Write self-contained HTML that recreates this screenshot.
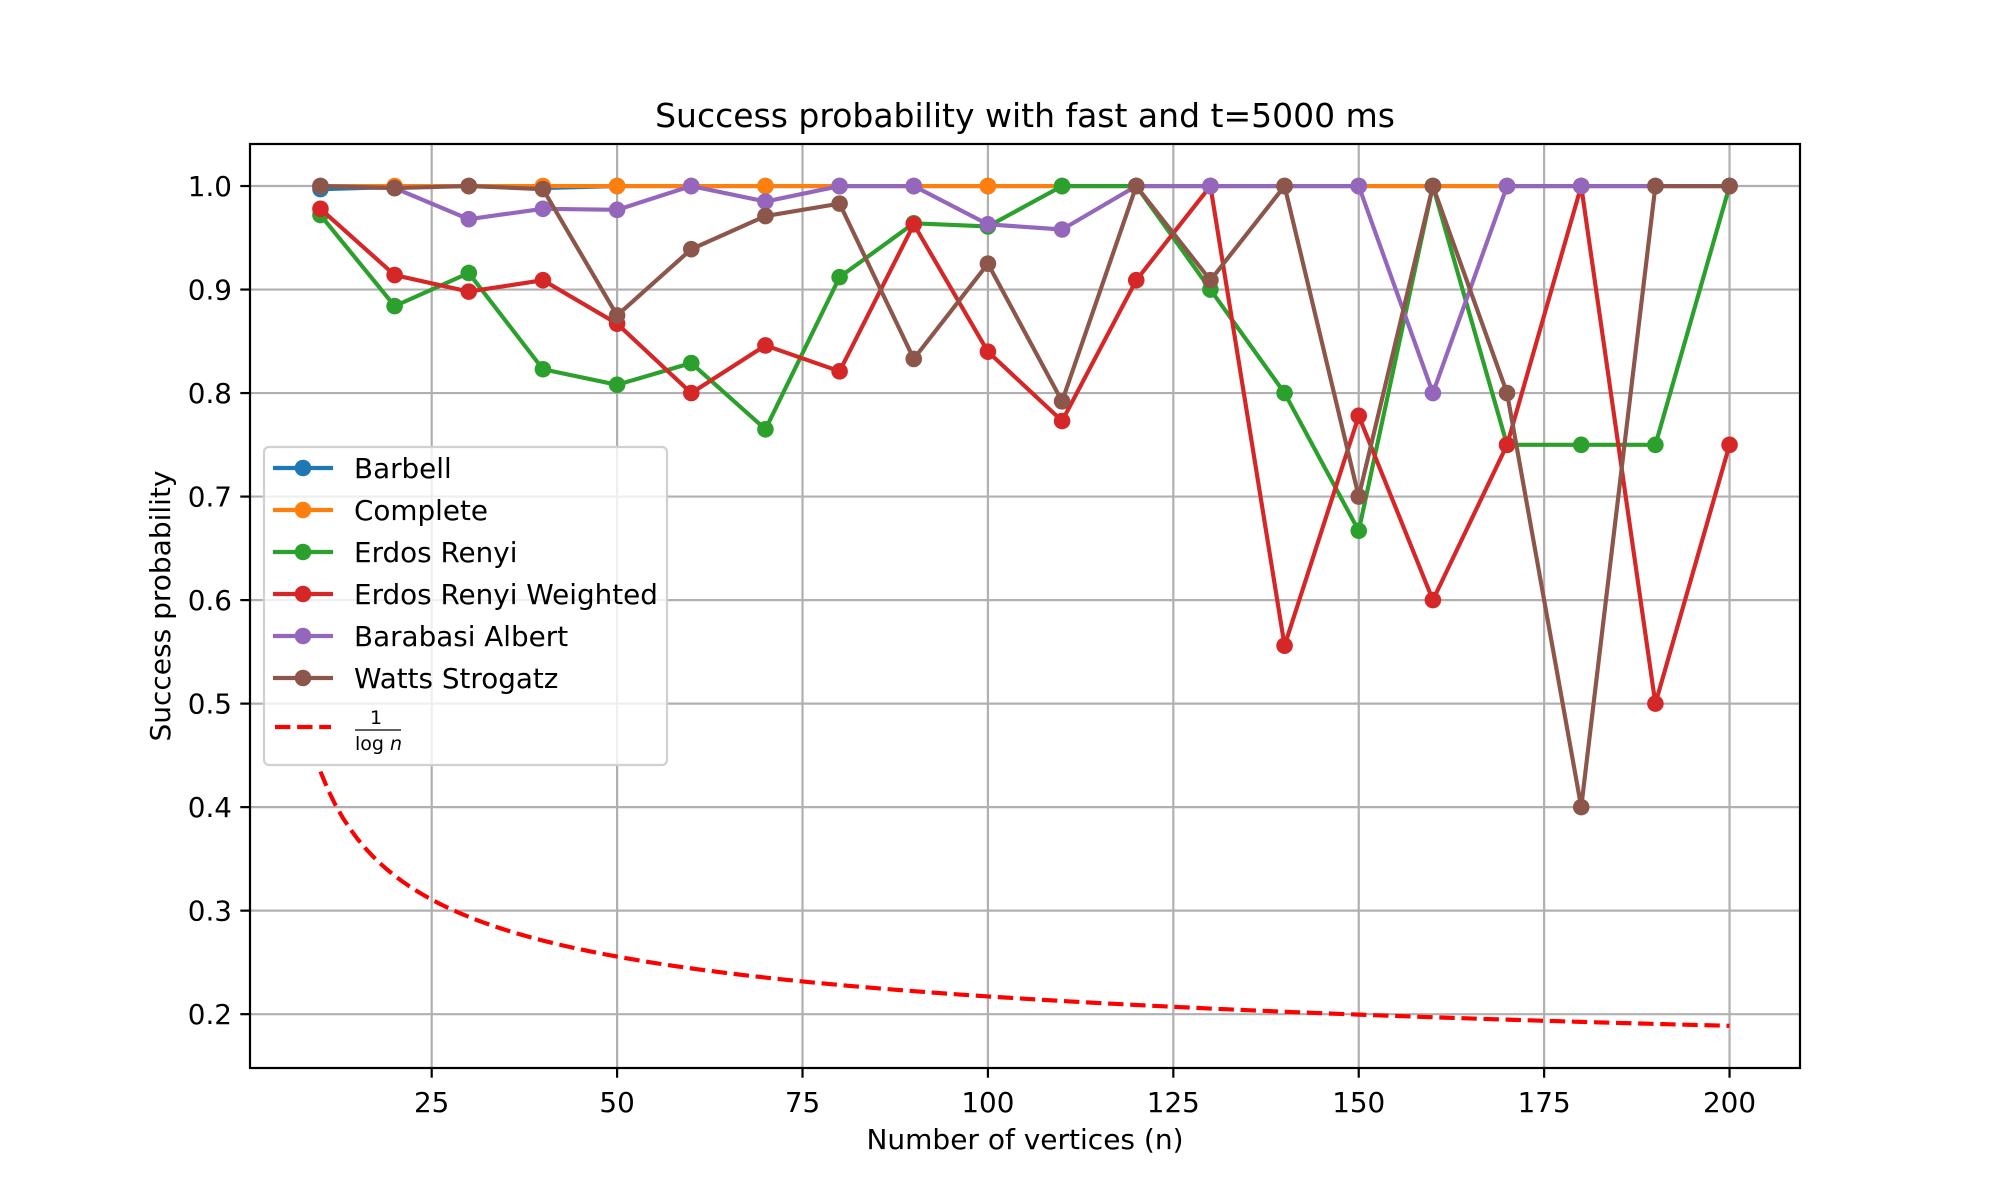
<!DOCTYPE html>
<html><head><meta charset="utf-8"><style>
html,body{margin:0;padding:0;background:#fff}
svg{display:block;font-family:"DejaVu Sans","Liberation Sans",sans-serif}
</style></head><body>
<svg id="chart" width="2000" height="1200" viewBox="0 0 2000 1200" xmlns="http://www.w3.org/2000/svg">
<rect width="2000" height="1200" fill="#fff"/>
<text x="1025" y="127" font-size="33" text-anchor="middle">Success probability with fast and t=5000 ms</text>
<g id="grid"></g>
<g id="curve"></g>
<g id="series"></g>
<rect x="250" y="144" width="1550" height="924" fill="none" stroke="#000" stroke-width="2.2"/>
<g id="ticks"></g>
<text x="1025" y="1149" font-size="28" text-anchor="middle">Number of vertices (n)</text>
<text transform="translate(170,606) rotate(-90)" font-size="28" text-anchor="middle">Success probability</text>
<g id="legend"></g>
</svg>
<script>
const nValues=[10,20,30,40,50,60,70,80,90,100,110,120,130,140,150,160,170,180,190,200];
const barbell=[0.997,0.999,1.0,0.998,1,1,1,1,1,1,1,1,1,1,1,1,1,1,1,1];
const complete=[1,1,1,1,1,1,1,1,1,1,1,1,1,1,1,1,1,1,1,1];
const erdosRenyi=[0.972,0.884,0.916,0.823,0.808,0.829,0.765,0.912,0.964,0.961,1.0,1.0,0.9,0.8,0.667,1.0,0.75,0.75,0.75,1.0];
const erdosRenyiWeighted=[0.978,0.914,0.898,0.909,0.867,0.8,0.846,0.821,0.963,0.84,0.773,0.909,1.0,0.556,0.778,0.6,0.75,1.0,0.5,0.75];
const barabasiAlbert=[1.0,0.998,0.968,0.978,0.977,1.0,0.985,1.0,1.0,0.963,0.958,1.0,1,1,1,0.8,1,1,1,1];
const wattsStrogatz=[1.0,0.998,1.0,0.997,0.875,0.939,0.971,0.983,0.833,0.925,0.792,1.0,0.909,1.0,0.7,1.0,0.8,0.4,1.0,1.0];
const xTicks=[25,50,75,100,125,150,175,200];
const yTicks=[0.2,0.3,0.4,0.5,0.6,0.7,0.8,0.9,1.0];
const seriesNames=["Barbell","Complete","Erdos Renyi","Erdos Renyi Weighted","Barabasi Albert","Watts Strogatz"];
const seriesColors=["#1f77b4","#ff7f0e","#2ca02c","#d62728","#9467bd","#8c564b"];
const seriesData=[barbell,complete,erdosRenyi,erdosRenyiWeighted,barabasiAlbert,wattsStrogatz];

const NS="http://www.w3.org/2000/svg";
const L=250,R=1800,T=144,B=1068,xmin=0.5,xmax=209.5,ymin=0.148,ymax=1.0406;
const sx=v=>L+(v-xmin)/(xmax-xmin)*(R-L);
const sy=v=>B-(v-ymin)/(ymax-ymin)*(B-T);
function mk(tag,attrs,parent){const e=document.createElementNS(NS,tag);for(const k in attrs)e.setAttribute(k,attrs[k]);parent.appendChild(e);return e;}
const grid=document.getElementById('grid'),ticks=document.getElementById('ticks');
xTicks.forEach(t=>{
  const g=mk('line',{x1:sx(t),x2:sx(t),y1:T,y2:B,stroke:'#b0b0b0','stroke-width':2.2},grid);
  
  
  const tk=mk('line',{x1:sx(t),x2:sx(t),y1:B,y2:B+9.7,stroke:'#000','stroke-width':2.2},ticks);
  
  
  const tx=mk('text',{x:sx(t),y:B+44,'font-size':27.8,'text-anchor':'middle'},ticks);
  tx.textContent=String(t);
  
  
});
yTicks.forEach(t=>{
  const g=mk('line',{x1:L,x2:R,y1:sy(t),y2:sy(t),stroke:'#b0b0b0','stroke-width':2.2},grid);
  
  
  const tk=mk('line',{x1:L-9.7,x2:L,y1:sy(t),y2:sy(t),stroke:'#000','stroke-width':2.2},ticks);
  
  
  const tx=mk('text',{x:L-18,y:sy(t)+10,'font-size':27.8,'text-anchor':'end'},ticks);
  tx.textContent=t.toFixed(1);
  
  
});
const curve=document.getElementById('curve');
let pts=[];for(let n=10;n<=200;n+=1)pts.push(sx(n)+','+sy(1/Math.log(n)));
const cp=mk('polyline',{points:pts.join(' '),fill:'none',stroke:'#ff0000','stroke-width':4.17,'stroke-dasharray':'15.4,6.7'},curve);


const sg=document.getElementById('series');
seriesData.forEach((d,i)=>{
  const g=mk('g',{},sg);
  
  
  const pl=mk('polyline',{points:d.map((v,j)=>sx(nValues[j])+','+sy(v)).join(' '),fill:'none',stroke:seriesColors[i],'stroke-width':4.17,'stroke-linejoin':'round'},g);
  
  
  d.forEach((v,j)=>{
    const c=mk('circle',{cx:sx(nValues[j]),cy:sy(v),r:8.3,fill:seriesColors[i]},g);
    
    
  });
});
const lg=document.getElementById('legend');
mk('rect',{x:264,y:447,width:403,height:318,rx:5,fill:'#fff','fill-opacity':0.8,stroke:'#d0d0d0','stroke-width':2.2},lg);
const ly=[468,510,552,594,636,678];
seriesNames.forEach((nm,i)=>{
  const g=mk('g',{},lg);
  
  
  mk('line',{x1:273,x2:333,y1:ly[i],y2:ly[i],stroke:seriesColors[i],'stroke-width':4.17},g);
  mk('circle',{cx:303,cy:ly[i],r:8.3,fill:seriesColors[i]},g);
  const t=mk('text',{x:354,y:ly[i]+10,'font-size':27.8},g);
  t.textContent=nm;
});
const g7=mk('g',{},lg);


mk('line',{x1:275,x2:331,y1:727,y2:727,stroke:'#ff0000','stroke-width':4.17,'stroke-dasharray':'15.4,6.7'},g7);
const t1=mk('text',{x:376,y:724,'font-size':19,'text-anchor':'middle'},g7);t1.textContent='1';
mk('line',{x1:355,x2:401,y1:730,y2:730,stroke:'#000','stroke-width':1.2},g7);
const t2=mk('text',{x:355,y:750,'font-size':19},g7);t2.textContent='log ';
const t3=mk('tspan',{'font-style':'italic'},t2);t3.textContent='n';
</script>
</body></html>
